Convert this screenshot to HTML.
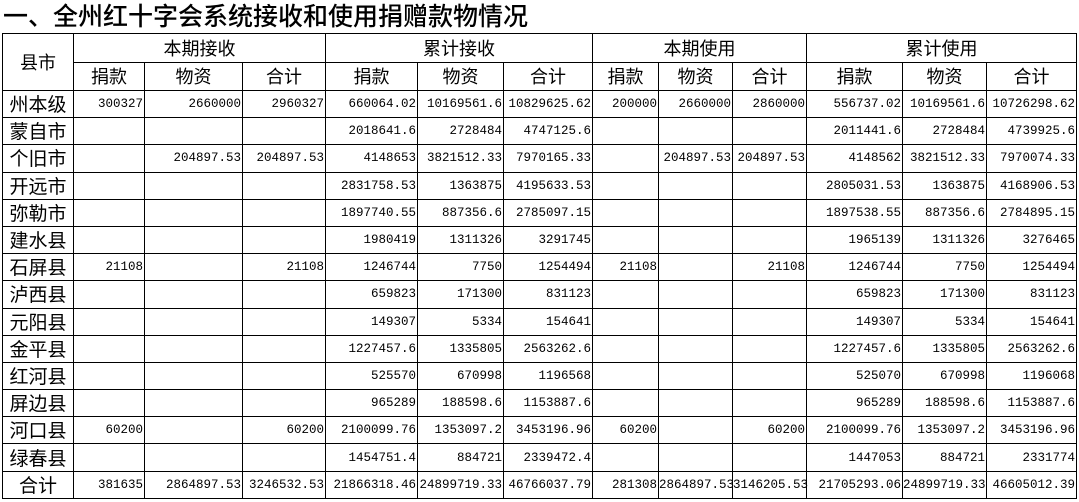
<!DOCTYPE html>
<html><head><meta charset="utf-8"><style>
body{margin:0;width:1079px;height:502px;background:#fff;position:relative;overflow:hidden;font-family:"Liberation Sans","Noto Sans CJK SC",sans-serif}
.t{position:absolute;left:3px;top:0;font-size:25px;line-height:30px;font-weight:500;font-family:"Noto Sans CJK SC",sans-serif;color:#000;white-space:nowrap}
table{position:absolute;left:2px;top:33px;width:1074px;border-collapse:collapse;table-layout:fixed}
td{border:1px solid #000;padding:0 1px 0 0;white-space:nowrap;overflow:visible;font-family:"Liberation Mono",monospace;font-size:12.5px;line-height:16px;text-align:right;color:#000;box-sizing:border-box}
td.h{font-family:"Noto Sans CJK SC",sans-serif;font-size:18px;line-height:20px;text-align:center;padding:0}
td.n{font-family:"Noto Sans CJK SC",sans-serif;font-size:19px;line-height:20px;text-align:center;padding:0}
tr{height:27.2px}
td{height:27.2px}
tr.hd{height:28.5px}
tr.hd td{height:28.5px}
</style></head><body>
<div class="t">一、全州红十字会系统接收和使用捐赠款物情况</div>
<table>
<colgroup><col style="width:71px"><col style="width:71px"><col style="width:98px"><col style="width:83px"><col style="width:92px"><col style="width:86px"><col style="width:89px"><col style="width:66px"><col style="width:74px"><col style="width:74px"><col style="width:96px"><col style="width:84px"><col style="width:90px"></colgroup>
<tr class="hd"><td class="h" rowspan="2">县市</td><td class="h" colspan="3">本期接收</td><td class="h" colspan="3">累计接收</td><td class="h" colspan="3">本期使用</td><td class="h" colspan="3">累计使用</td></tr>
<tr class="hd"><td class="h">捐款</td><td class="h">物资</td><td class="h">合计</td><td class="h">捐款</td><td class="h">物资</td><td class="h">合计</td><td class="h">捐款</td><td class="h">物资</td><td class="h">合计</td><td class="h">捐款</td><td class="h">物资</td><td class="h">合计</td></tr>
<tr><td class="n">州本级</td><td>300327</td><td>2660000</td><td>2960327</td><td>660064.02</td><td>10169561.6</td><td>10829625.62</td><td>200000</td><td>2660000</td><td>2860000</td><td>556737.02</td><td>10169561.6</td><td>10726298.62</td></tr>
<tr><td class="n">蒙自市</td><td></td><td></td><td></td><td>2018641.6</td><td>2728484</td><td>4747125.6</td><td></td><td></td><td></td><td>2011441.6</td><td>2728484</td><td>4739925.6</td></tr>
<tr><td class="n">个旧市</td><td></td><td>204897.53</td><td>204897.53</td><td>4148653</td><td>3821512.33</td><td>7970165.33</td><td></td><td>204897.53</td><td>204897.53</td><td>4148562</td><td>3821512.33</td><td>7970074.33</td></tr>
<tr><td class="n">开远市</td><td></td><td></td><td></td><td>2831758.53</td><td>1363875</td><td>4195633.53</td><td></td><td></td><td></td><td>2805031.53</td><td>1363875</td><td>4168906.53</td></tr>
<tr><td class="n">弥勒市</td><td></td><td></td><td></td><td>1897740.55</td><td>887356.6</td><td>2785097.15</td><td></td><td></td><td></td><td>1897538.55</td><td>887356.6</td><td>2784895.15</td></tr>
<tr><td class="n">建水县</td><td></td><td></td><td></td><td>1980419</td><td>1311326</td><td>3291745</td><td></td><td></td><td></td><td>1965139</td><td>1311326</td><td>3276465</td></tr>
<tr><td class="n">石屏县</td><td>21108</td><td></td><td>21108</td><td>1246744</td><td>7750</td><td>1254494</td><td>21108</td><td></td><td>21108</td><td>1246744</td><td>7750</td><td>1254494</td></tr>
<tr><td class="n">泸西县</td><td></td><td></td><td></td><td>659823</td><td>171300</td><td>831123</td><td></td><td></td><td></td><td>659823</td><td>171300</td><td>831123</td></tr>
<tr><td class="n">元阳县</td><td></td><td></td><td></td><td>149307</td><td>5334</td><td>154641</td><td></td><td></td><td></td><td>149307</td><td>5334</td><td>154641</td></tr>
<tr><td class="n">金平县</td><td></td><td></td><td></td><td>1227457.6</td><td>1335805</td><td>2563262.6</td><td></td><td></td><td></td><td>1227457.6</td><td>1335805</td><td>2563262.6</td></tr>
<tr><td class="n">红河县</td><td></td><td></td><td></td><td>525570</td><td>670998</td><td>1196568</td><td></td><td></td><td></td><td>525070</td><td>670998</td><td>1196068</td></tr>
<tr><td class="n">屏边县</td><td></td><td></td><td></td><td>965289</td><td>188598.6</td><td>1153887.6</td><td></td><td></td><td></td><td>965289</td><td>188598.6</td><td>1153887.6</td></tr>
<tr><td class="n">河口县</td><td>60200</td><td></td><td>60200</td><td>2100099.76</td><td>1353097.2</td><td>3453196.96</td><td>60200</td><td></td><td>60200</td><td>2100099.76</td><td>1353097.2</td><td>3453196.96</td></tr>
<tr><td class="n">绿春县</td><td></td><td></td><td></td><td>1454751.4</td><td>884721</td><td>2339472.4</td><td></td><td></td><td></td><td>1447053</td><td>884721</td><td>2331774</td></tr>
<tr><td class="n">合计</td><td>381635</td><td>2864897.53</td><td>3246532.53</td><td>21866318.46</td><td>24899719.33</td><td>46766037.79</td><td>281308</td><td>2864897.53</td><td>3146205.53</td><td>21705293.06</td><td>24899719.33</td><td>46605012.39</td></tr>
</table>
</body></html>
